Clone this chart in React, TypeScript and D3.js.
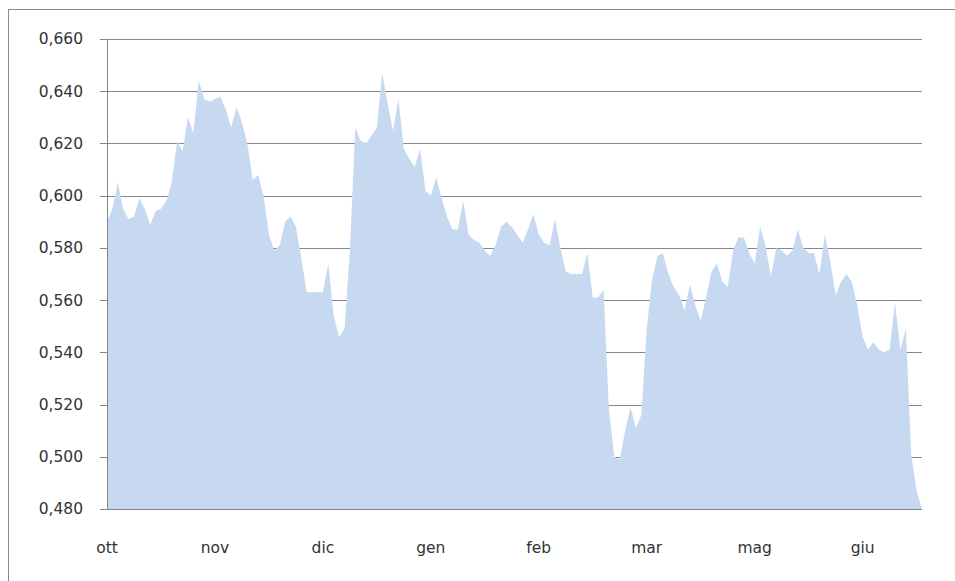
import React from 'react';
import * as d3 from 'd3';

// daily values, ott -> giu
const values = [
  0.590, 0.595, 0.605, 0.595, 0.591, 0.592, 0.599, 0.595, 0.589, 0.594,
  0.595, 0.598, 0.605, 0.621, 0.617, 0.630, 0.624, 0.644, 0.637, 0.636,
  0.637, 0.638, 0.633, 0.626, 0.634, 0.628, 0.620, 0.606, 0.608, 0.600,
  0.585, 0.579, 0.581, 0.590, 0.592, 0.588, 0.576, 0.563, 0.563, 0.563,
  0.563, 0.574, 0.554, 0.546, 0.549, 0.579, 0.626, 0.621, 0.620, 0.623,
  0.626, 0.647, 0.635, 0.625, 0.637, 0.618, 0.614, 0.611, 0.618, 0.602,
  0.600, 0.607, 0.599, 0.592, 0.587, 0.587, 0.598, 0.585, 0.583, 0.582,
  0.579, 0.577, 0.581, 0.588, 0.590, 0.588, 0.585, 0.582, 0.587, 0.593,
  0.585, 0.582, 0.581, 0.591, 0.580, 0.571, 0.570, 0.570, 0.570, 0.578,
  0.561, 0.561, 0.564, 0.518, 0.500, 0.499, 0.510, 0.519, 0.511, 0.516,
  0.549, 0.568, 0.577, 0.578, 0.570, 0.565, 0.562, 0.556, 0.566, 0.558,
  0.552, 0.561, 0.571, 0.574, 0.567, 0.565, 0.579, 0.584, 0.584, 0.578,
  0.574, 0.588, 0.581, 0.569, 0.580, 0.579, 0.577, 0.579, 0.587, 0.580,
  0.578, 0.578, 0.570, 0.585, 0.575, 0.562, 0.567, 0.570, 0.567, 0.558,
  0.546, 0.541, 0.544, 0.541, 0.540, 0.541, 0.559, 0.541, 0.549, 0.501,
  0.487, 0.480
];

const months = ['ott', 'nov', 'dic', 'gen', 'feb', 'mar', 'mag', 'giu'];
const labelStep = 20;

const yTicks = [0.48, 0.5, 0.52, 0.54, 0.56, 0.58, 0.6, 0.62, 0.64, 0.66];

const W = 955, H = 581;
const m = { top: 39, left: 107, right: 33, bottom: 72 };

const itFormat = d3.formatLocale({ decimal: ',', thousands: '.', grouping: [3], currency: ['€', ''] }).format('.3f');

export default function App() {
  const x = d3.scaleLinear().domain([0, values.length - 1]).range([m.left, W - m.right]);
  const y = d3.scaleLinear().domain([0.48, 0.66]).range([H - m.bottom, m.top]);

  const area = d3.area<number>()
    .x((d, i) => x(i))
    .y0(y(0.48))
    .y1(d => y(d));

  const font = '"DejaVu Sans", sans-serif';

  return (
    <div style={{ position: 'fixed', left: 0, top: 0 }}>
      <svg width={W} height={H} style={{ display: 'block', background: '#fff' }}>
        <rect x={8.5} y={9.5} width={1200} height={1200} fill="none" stroke="#8a8a8a" />

        {/* gridlines */}
        {yTicks.map(t => (
          <line key={t} x1={m.left - 7} x2={W - m.right} y1={Math.round(y(t)) + 0.5} y2={Math.round(y(t)) + 0.5}
                stroke="#868686" strokeWidth={1} />
        ))}

        <path d={area(values) || ''} fill="#c6d9f0" />

        {/* axes */}
        <line x1={m.left + 0.5} x2={m.left + 0.5} y1={y(0.66)} y2={y(0.48)} stroke="#868686" />
        <line x1={m.left} x2={W - m.right} y1={Math.round(y(0.48)) + 0.5} y2={Math.round(y(0.48)) + 0.5} stroke="#868686" />

        {yTicks.map(t => (
          <text key={t} x={83} y={y(t)} dy="0.35em" textAnchor="end" fontFamily={font} fontSize={15.5} fill="#333">
            {itFormat(t)}
          </text>
        ))}

        {months.map((mo, i) => (
          <text key={mo} x={x(i * labelStep)} y={553} textAnchor="middle" fontFamily={font} fontSize={15.5} fill="#333">
            {mo}
          </text>
        ))}
      </svg>
    </div>
  );
}
